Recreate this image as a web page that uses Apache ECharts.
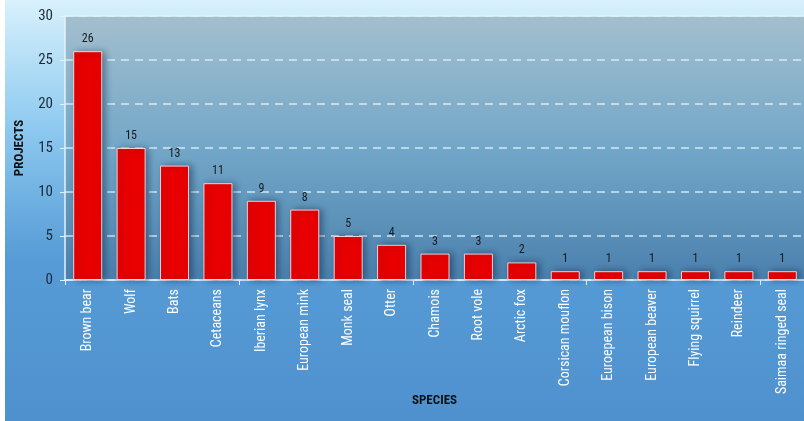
<!DOCTYPE html>
<html>
<head>
<meta charset="utf-8">
<script src="https://cdn.jsdelivr.net/npm/echarts@6/dist/echarts.min.js"></script>
<style>
html,body{margin:0;padding:0;background:#ffffff;}
#c{position:absolute;left:5px;top:0;width:799px;height:421px;}
</style>
</head>
<body>
<div id="c"></div>
<script>
const categories = ['Brown bear','Wolf','Bats','Cetaceans','Iberian lynx','European mink','Monk seal','Otter','Chamois','Root vole','Arctic fox','Corsican mouflon','Euroepean bison','European beaver','Flying squirrel','Reindeer','Saimaa ringed seal'];
const projects = [26,15,13,11,9,8,5,4,3,3,2,1,1,1,1,1,1];
const yTicks = [0,5,10,15,20,25,30];

const FONT = '"Liberation Sans Narrow","Roboto Condensed","Liberation Sans",sans-serif';
const chart = echarts.init(document.getElementById('c'));
chart.setOption({
  animation:false,
  backgroundColor:{type:'linear',x:0,y:0,x2:0,y2:1,colorStops:[
    {offset:0,color:'#d8f1fc'},{offset:0.3,color:'#8ecaf0'},{offset:0.62,color:'#569bd6'},{offset:1,color:'#4f91ce'}]},
  grid:[
    {left:55,right:-2,top:16,bottom:141,show:true,borderWidth:0,
     backgroundColor:{type:'linear',x:0,y:0,x2:0,y2:1,colorStops:[
       {offset:0,color:'#a3bfcd'},{offset:0.5,color:'#73a7c8'},{offset:1,color:'#4a80ad'}]}},
    {left:61,right:-2,top:16,bottom:141}
  ],
  xAxis:[
    {type:'category',gridIndex:0,data:categories,position:'bottom',
     name:'SPECIES',nameLocation:'middle',nameGap:114,
     nameTextStyle:{color:'#111',fontWeight:'bold',fontSize:13,fontFamily:FONT},
     axisLine:{lineStyle:{color:'#e4f2fa',width:1.5}},
     axisTick:{show:true,length:5,lineStyle:{color:'#e4f2fa'}},
     axisLabel:{show:false},splitLine:{show:false}},
    {type:'category',gridIndex:0,data:categories,position:'top',
     axisLine:{lineStyle:{color:'#e4f2fa',width:1.5}},
     axisTick:{show:false},axisLabel:{show:false},splitLine:{show:false}},
    {type:'category',gridIndex:1,data:categories,position:'bottom',
     axisLine:{show:false},axisTick:{show:false},
     axisLabel:{rotate:90,color:'#ffffff',fontSize:14,fontFamily:FONT,margin:9,interval:0}}
  ],
  yAxis:[
    {type:'value',gridIndex:0,min:0,max:30,interval:5,
     name:'PROJECTS',nameLocation:'middle',nameGap:39,
     nameTextStyle:{color:'#111',fontWeight:'bold',fontSize:13,fontFamily:FONT},
     axisLine:{show:true,lineStyle:{color:'#e4f2fa',width:1.5}},
     axisTick:{show:true,length:5,lineStyle:{color:'#e4f2fa'}},
     axisLabel:{color:'#1c2a38',fontSize:15,fontFamily:FONT,margin:12,
       formatter:v=>yTicks.includes(v)?String(v):''},
     splitLine:{show:true,lineStyle:{color:'rgba(230,242,250,0.85)',type:[8,6],width:1.5}}},
    {type:'value',gridIndex:1,min:0,max:30,interval:5,show:false,splitLine:{show:false}}
  ],
  series:[{
    type:'bar',xAxisIndex:2,yAxisIndex:1,data:projects,barWidth:29,
    itemStyle:{color:'#e80000',borderColor:'rgba(255,235,235,0.85)',borderWidth:1,
      shadowBlur:7,shadowColor:'rgba(0,20,50,0.45)',shadowOffsetX:3,shadowOffsetY:0},
    label:{show:true,position:'top',color:'#1a1a1a',fontSize:12,fontFamily:FONT,distance:6}
  }]
});
</script>
</body>
</html>
